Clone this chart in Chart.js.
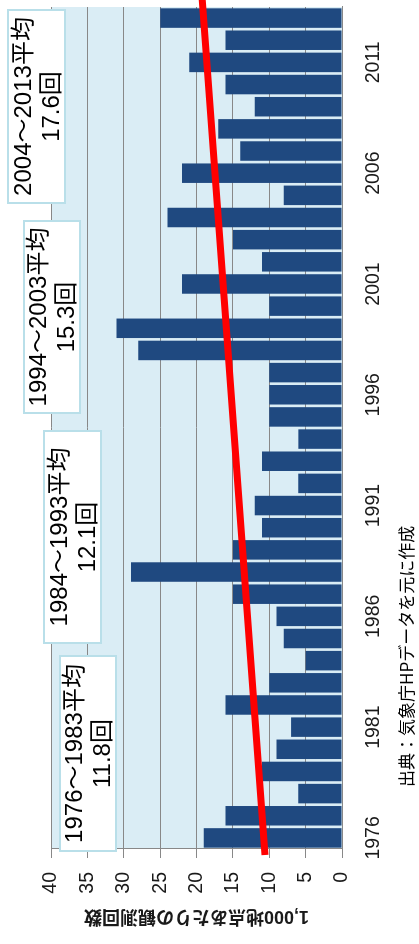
<!DOCTYPE html>
<html lang="ja">
<head>
<meta charset="utf-8">
<title>短時間強雨の発生回数</title>
<script src="https://cdn.jsdelivr.net/npm/chart.js@4/dist/chart.umd.min.js"></script>
<style>
  html, body { margin: 0; padding: 0; background: #fff; overflow: hidden; }
  body { width: 419px; height: 944px; position: relative; }
  /* la figure est dessinée à plat puis tournée de -90° */
  #wrap {
    position: absolute; left: 0; top: 0;
    width: 944px; height: 419px;
    transform-origin: 0 0;
    transform: translateY(944px) rotate(-90deg);
    font-family: "Liberation Sans", "Noto Sans CJK JP", sans-serif;
  }
  #wrap canvas { position: absolute; left: 0; top: 0; }
  .avg-box {
    position: absolute;
    box-sizing: border-box;
    background: #fff;
    border: 2px solid #b9dfe9;
    display: flex; flex-direction: column; justify-content: center; align-items: center;
    font-size: 24px; line-height: 28px; color: #000;
    white-space: nowrap;
  }
  #source {
    position: absolute; left: 157px; top: 395px;
    font-family: "Noto Sans CJK JP", sans-serif;
    font-size: 17px; line-height: 22px; color: #000;
    white-space: nowrap;
  }
</style>
</head>
<body>
<div id="wrap">
  <canvas id="rainChart" width="944" height="419"></canvas>
  <div class="avg-box" style="left:92px; top:59px; width:197px; height:58px;"><span>1976～1983平均</span><span>11.8回</span></div>
  <div class="avg-box" style="left:300px; top:43px; width:214px; height:59px;"><span>1984～1993平均</span><span>12.1回</span></div>
  <div class="avg-box" style="left:530px; top:23px; width:194px; height:58px;"><span>1994～2003平均</span><span>15.3回</span></div>
  <div class="avg-box" style="left:740px; top:7px; width:195px; height:59px;"><span>2004～2013平均</span><span>17.6回</span></div>
  <div id="source">出典：気象庁HPデータを元に作成</div>
</div>

<script>
// -------------------------------
// DONNÉES
// -------------------------------
const YEARS = [];
for (let y = 1976; y <= 2013; y++) YEARS.push(String(y));

// 1,000地点あたりの観測回数 (1976 → 2013)
const COUNTS = [
  19, 16, 6, 11, 9, 7, 16, 10,          // 1976-1983
  5, 8, 9, 15, 29, 15, 11, 12, 6, 11,   // 1984-1993
  6, 10, 10, 10, 28, 31, 10, 22, 11, 15, // 1994-2003
  24, 8, 22, 14, 17, 12, 16, 21, 16, 25  // 2004-2013
];

// droite de tendance : extrémités (année, valeur)
const TREND_YEARS = [1975.23, 2014.2];
const TREND_VALUES = [10.6, 19.3];

const Y_TICKS = { min: 0, max: 40, step: 5 };
const LABEL_EVERY = 5;

const GRID_GRAY = '#888888';
const BAR_BLUE = '#1f4980';

// fond bleu clair de la zone de tracé
const plotBackground = {
  id: 'plotBackground',
  beforeDraw(chart) {
    const { ctx, chartArea: a } = chart;
    ctx.save();
    ctx.fillStyle = '#daedf5';
    ctx.fillRect(a.left, a.top, a.right - a.left, a.bottom - a.top);
    ctx.restore();
  }
};

// droite rouge, placée avec les échelles du graphique (peut dépasser la zone)
const trendLine = {
  id: 'trendLine',
  afterDatasetsDraw(chart) {
    const { ctx, scales } = chart;
    const first = Number(YEARS[0]);
    const pts = TREND_YEARS.map((yr, i) => [
      scales.x.getPixelForValue(yr - first),
      scales.y.getPixelForValue(TREND_VALUES[i])
    ]);
    ctx.save();
    ctx.strokeStyle = '#ff0000';
    ctx.lineWidth = 7;
    ctx.lineCap = 'butt';
    ctx.beginPath();
    ctx.moveTo(pts[0][0], pts[0][1]);
    ctx.lineTo(pts[1][0], pts[1][1]);
    ctx.stroke();
    ctx.restore();
  }
};

Chart.defaults.font.family = '"Liberation Sans", "Noto Sans CJK JP", sans-serif';
Chart.defaults.color = '#1a1a1a';

const ctx = document.getElementById('rainChart').getContext('2d');

const rainChart = new Chart(ctx, {
  type: 'bar',
  data: {
    labels: YEARS,
    datasets: [{
      label: '観測回数',
      data: COUNTS,
      backgroundColor: BAR_BLUE,
      borderWidth: 0,
      categoryPercentage: 1,
      barPercentage: 0.88
    }]
  },
  options: {
    responsive: false,
    animation: false,
    layout: { padding: { top: 51, right: 7, left: 0, bottom: 0 } },
    plugins: {
      legend: { display: false },
      tooltip: { enabled: false }
    },
    scales: {
      x: {
        grid: { display: false },
        border: { display: true, color: GRID_GRAY, width: 1 },
        ticks: {
          autoSkip: false,
          maxRotation: 0,
          minRotation: 0,
          padding: 12,
          font: { size: 19.5 },
          callback: (val, i) => (i % LABEL_EVERY === 0 ? YEARS[i] : '')
        },
        afterFit: (scale) => { scale.height = 77; }
      },
      y: {
        min: Y_TICKS.min,
        max: Y_TICKS.max,
        grid: { color: GRID_GRAY, lineWidth: 1, drawTicks: true, tickLength: 9 },
        border: { display: true, color: GRID_GRAY, width: 1 },
        ticks: {
          stepSize: Y_TICKS.step,
          padding: 14,
          font: { size: 19.5 }
        },
        title: {
          display: true,
          text: '1,000地点あたりの観測回数',
          font: { size: 18, weight: 'bold' },
          color: '#1a1a1a',
          padding: { top: 17, bottom: 0 }
        },
        afterFit: (scale) => { scale.width = 95; }
      }
    }
  },
  plugins: [plotBackground, trendLine]
});
</script>
</body>
</html>
